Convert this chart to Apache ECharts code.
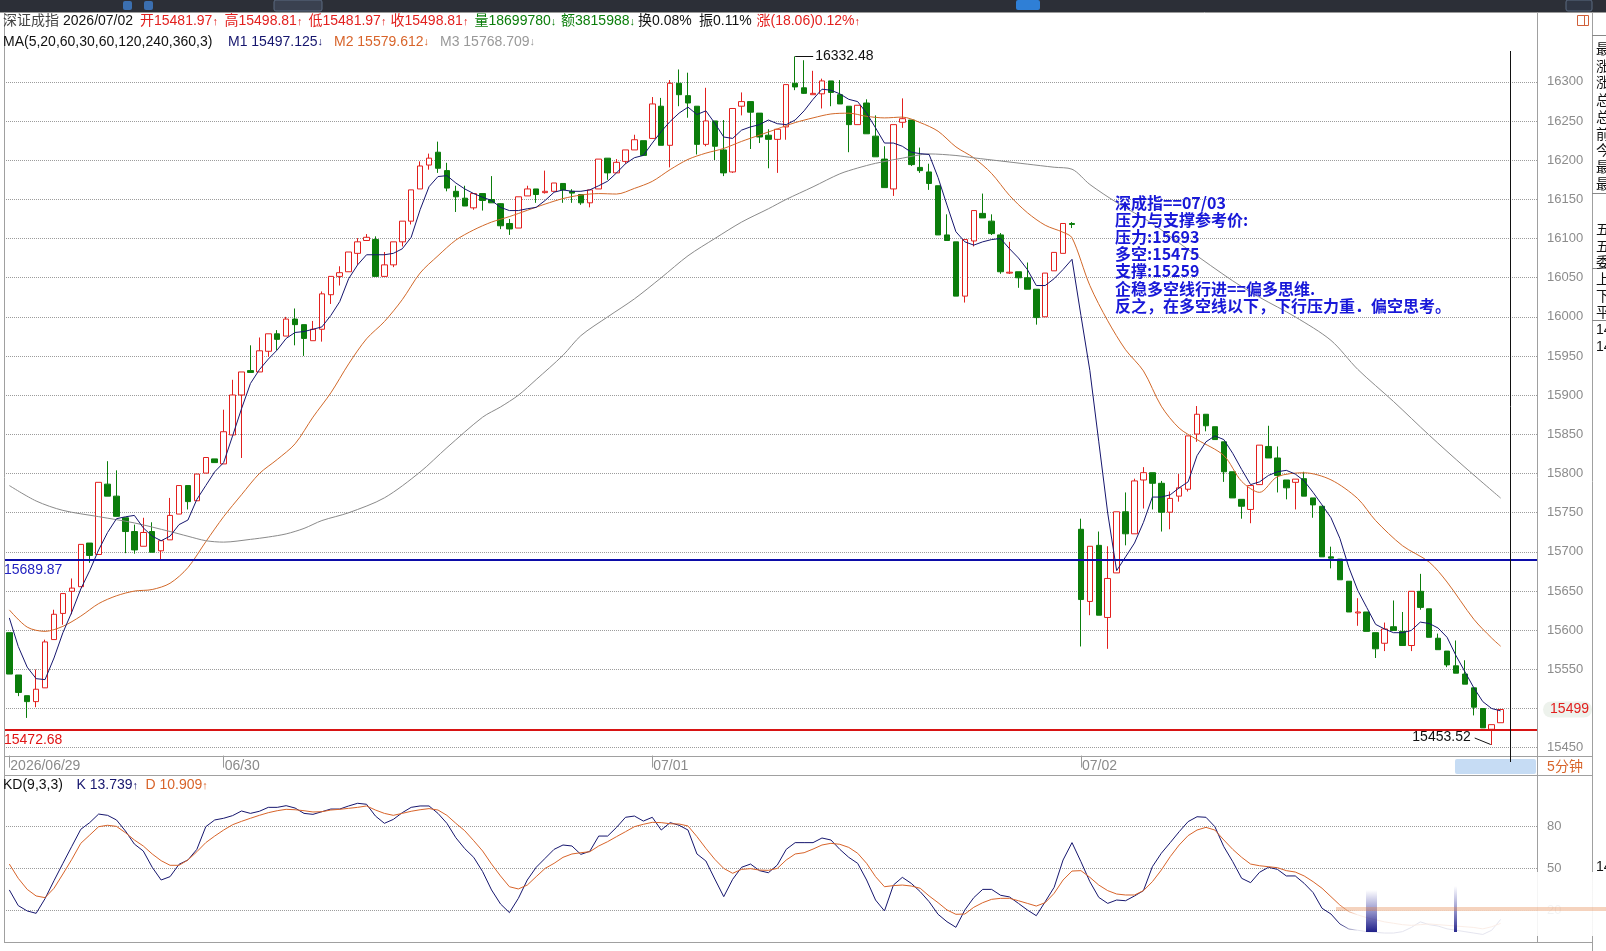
<!DOCTYPE html>
<html>
<head>
<meta charset="utf-8">
<script src="https://cdn.jsdelivr.net/npm/echarts@6/dist/echarts.min.js"></script>
<style>
  html, body { margin: 0; padding: 0; background: #fff; }
  #kline { width: 1606px; height: 951px; }
</style>
</head>
<body>
<div id="kline"></div>
<script>
// * 深证成指 5分钟K线 + KD
const dayNames = ['2026/06/29', '06/30', '07/01', '07/02']
const dayBarCount = [24, 48, 48, 48]

// 每根K线: [开, 收, 低, 高]
const candles = [
  [15596.9,15544.1,15544.1,15596.9],[15542.9,15520.6,15515.9,15542.9],[15516.5,15508.9,15488.1,15516.5],[15508.9,15524.7,15501.8,15549.9],
  [15526.5,15585.1,15526.5,15588.0],[15588.1,15620.4,15588.1,15626.2],[15621.5,15646.8,15607.0,15646.8],[15649.7,15653.8,15620.4,15666.1],
  [15655.6,15709.6,15655.6,15709.6],[15711.3,15695.5,15686.1,15711.3],[15696.7,15788.8,15696.7,15788.8],[15786.5,15771.2,15771.2,15815.8],
  [15771.2,15745.4,15745.4,15804.1],[15743.6,15726.0,15698.4,15743.6],[15726.0,15702.5,15697.7,15734.8],[15707.2,15724.8,15707.2,15743.6],
  [15726.0,15699.6,15699.6,15737.8],[15701.4,15714.3,15690.8,15714.3],[15715.4,15746.6,15715.4,15768.9],[15748.3,15784.7,15748.3,15784.7],
  [15784.7,15764.2,15754.2,15784.7],[15765.3,15799.4,15765.3,15799.4],[15800.6,15820.5,15800.6,15820.5],[15818.7,15814.0,15814.0,15818.7],
  [15812.3,15853.4,15812.3,15881.5],[15849.3,15900.3,15849.3,15919.7],[15900.3,15929.7,15819.9,15929.7],[15931.4,15929.1,15929.1,15963.7],
  [15929.7,15956.7,15929.7,15973.7],[15956.1,15978.4,15949.0,15978.4],[15978.4,15971.3,15957.8,15983.1],[15975.5,15997.2,15975.5,16000.0],
  [15997.2,15990.1,15963.7,16010.7],[15990.1,15972.5,15950.2,15990.1],[15969.6,15984.2,15969.6,15994.8],[15984.2,16029.4,15968.4,16032.4],
  [16028.3,16051.7,16016.5,16051.7],[16051.7,16056.4,16040.0,16064.6],[16057.6,16082.8,16057.6,16082.8],[16081.1,16095.8,16066.4,16100.5],
  [16097.5,16101.6,16097.5,16105.7],[16098.7,16051.7,16051.7,16102.8],[16051.7,16066.4,16051.7,16082.8],[16066.4,16095.8,16063.5,16095.8],
  [16095.8,16122.2,16089.9,16122.2],[16122.2,16162.1,16118.0,16162.1],[16163.3,16192.6,16163.3,16198.5],[16193.8,16202.6,16187.9,16208.4],
  [16210.2,16189.7,16183.8,16223.7],[16186.7,16164.4,16160.3,16196.7],[16160.3,16153.3,16133.9,16167.4],[16151.5,16141.5,16141.5,16167.4],
  [16139.2,16157.4,16136.8,16157.4],[16157.4,16148.6,16135.7,16157.4],[16149.8,16145.6,16145.6,16179.7],[16144.5,16116.3,16112.0,16145.0],
  [16119.2,16112.2,16104.6,16125.0],[16113.4,16153.3,16113.4,16153.3],[16154.4,16163.3,16154.4,16167.4],[16163.3,16156.2,16145.6,16163.3],
  [16158.6,16160.3,16157.4,16186.7],[16160.3,16170.9,16160.3,16170.9],[16170.3,16162.1,16145.6,16170.3],[16160.3,16158.0,16145.6,16163.0],
  [16156.2,16145.6,16143.0,16156.2],[16145.6,16162.1,16139.8,16162.1],[16163.3,16201.4,16163.3,16201.4],[16202.6,16183.8,16175.0,16202.6],
  [16183.8,16197.3,16183.8,16201.4],[16198.5,16213.1,16195.5,16213.1],[16213.1,16226.1,16213.1,16232.5],[16224.9,16206.1,16206.1,16224.9],
  [16227.8,16271.8,16227.8,16280.6],[16268.9,16219.0,16219.0,16279.5],[16219.0,16298.2,16190.8,16302.3],[16298.2,16283.6,16268.9,16315.8],
  [16282.4,16273.0,16254.2,16311.7],[16268.9,16220.2,16207.3,16268.9],[16220.2,16250.1,16217.8,16292.4],[16250.1,16217.8,16200.2,16250.1],
  [16213.1,16183.8,16179.7,16251.3],[16185.0,16266.0,16183.8,16266.0],[16268.9,16274.8,16257.2,16286.5],[16274.8,16261.3,16214.3,16274.8],
  [16260.1,16229.6,16221.9,16260.1],[16231.9,16226.6,16189.7,16239.5],[16226.6,16239.5,16183.8,16239.5],[16242.5,16296.5,16226.1,16296.5],
  [16298.2,16293.5,16289.4,16332.48],[16292.4,16285.3,16284.7,16327.6],[16283.6,16285.3,16283.6,16314.1],[16284.7,16301.2,16266.0,16304.1],
  [16301.2,16286.5,16268.9,16301.2],[16283.6,16271.8,16271.8,16302.3],[16268.9,16245.4,16210.2,16268.9],[16245.4,16270.1,16245.4,16270.1],
  [16273.0,16233.7,16233.7,16277.7],[16230.7,16204.3,16204.3,16257.2],[16201.4,16165.0,16165.0,16217.8],[16163.3,16245.4,16154.4,16245.4],
  [16248.4,16253.0,16241.3,16278.9],[16251.3,16194.4,16192.6,16251.3],[16190.8,16186.7,16183.8,16216.1],[16185.0,16170.3,16162.1,16195.5],
  [16167.4,16104.6,16104.6,16167.4],[16104.6,16097.5,16097.5,16130.9],[16095.8,16026.5,16026.5,16095.8],[16026.5,16098.7,16018.3,16098.7],
  [16096.9,16135.7,16089.9,16135.7],[16132.1,16126.3,16126.3,16157.4],[16122.2,16106.3,16104.5,16130.9],[16104.6,16057.6,16055.0,16107.0],
  [16055.9,16057.0,16054.7,16095.8],[16057.6,16049.9,16037.1,16057.6],[16049.9,16035.3,16035.3,16069.4],[16035.3,15999.1,15990.1,16035.3],
  [16000.1,16055.9,16000.1,16055.9],[16058.8,16082.3,16058.8,16082.3],[16081.1,16119.2,16081.1,16119.2],[16119.2,16118.0,16113.4,16121.0],
  [15728.9,15639.2,15579.3,15742.4],[15636.8,15707.2,15619.2,15707.2],[15708.4,15619.2,15619.2,15726.0],[15616.3,15666.1,15576.3,15707.2],
  [15673.2,15751.2,15673.2,15751.2],[15751.2,15723.1,15708.4,15775.9],[15723.1,15790.6,15723.1,15793.5],[15791.8,15801.1,15755.4,15808.2],
  [15801.1,15787.6,15754.2,15801.1],[15787.6,15750.7,15726.0,15790.6],[15750.7,15768.3,15728.9,15777.1],[15771.2,15781.8,15764.2,15799.4],
  [15780.0,15848.1,15777.1,15848.1],[15850.4,15875.7,15840.5,15886.2],[15875.7,15861.0,15853.9,15875.7],[15859.8,15843.4,15843.4,15859.8],
  [15840.5,15802.3,15789.4,15840.5],[15802.3,15768.9,15768.9,15802.3],[15767.1,15758.3,15742.4,15767.1],[15754.2,15784.7,15736.6,15784.7],
  [15785.9,15836.3,15785.9,15836.3],[15834.6,15819.9,15819.9,15861.0],[15819.9,15797.6,15775.9,15834.6],[15791.8,15781.8,15767.1,15791.8],
  [15788.8,15792.9,15754.2,15792.9],[15793.5,15771.2,15771.2,15802.3],[15768.9,15760.0,15743.6,15768.9],[15758.3,15693.7,15693.7,15758.3],
  [15693.7,15692.0,15679.0,15706.7],[15690.8,15664.4,15664.4,15690.8],[15662.6,15623.3,15623.3,15662.6],[15622.1,15623.3,15605.7,15640.9],
  [15623.3,15598.6,15598.6,15623.3],[15596.9,15576.3,15564.6,15596.9],[15583.4,15601.6,15573.4,15609.8],[15604.5,15599.8,15599.8,15638.0],
  [15598.6,15580.5,15580.5,15623.3],[15580.5,15649.7,15573.4,15649.7],[15649.7,15629.2,15626.2,15672.0],[15627.4,15591.0,15591.0,15627.4],
  [15589.8,15575.2,15575.2,15595.7],[15573.4,15555.8,15552.9,15573.4],[15554.6,15545.2,15545.2,15586.9],[15544.1,15531.2,15531.2,15561.7],
  [15526.5,15501.8,15491.3,15526.5],[15500.1,15475.4,15475.4,15500.1],[15473.6,15479.5,15453.52,15479.5],[15481.97,15498.81,15481.97,15498.81]
]

// MA5 (每根K线读数)
const ma5 = [
  15615.7,15579.3,15552.9,15538.2,15537.0,15564.6,15596.9,15623.3,15652.6,15676.1,
  15702.5,15724.8,15742.4,15744.8,15746.6,15730.7,15720.1,15714.3,15720.1,15734.8,
  15740.7,15767.1,15784.7,15802.3,15814.0,15848.1,15882.7,15915.0,15932.6,15946.1,
  15957.8,15972.5,15980.1,15981.3,15984.2,15987.2,16001.8,16019.5,16048.8,16066.4,
  16079.3,16079.3,16079.3,16081.1,16086.9,16101.6,16136.8,16166.2,16179.1,16180.3,
  16170.9,16163.3,16157.4,16152.7,16148.6,16139.8,16135.7,16135.7,16138.0,16139.8,
  16148.6,16159.1,16162.1,16160.3,16160.3,16162.1,16167.4,16173.2,16183.8,16195.5,
  16203.2,16206.1,16221.9,16236.6,16249.5,16260.1,16267.7,16258.3,16263.0,16247.2,
  16229.6,16227.8,16238.4,16242.5,16245.4,16251.3,16246.6,16245.4,16251.3,16263.0,
  16277.7,16290.6,16289.4,16284.7,16277.7,16274.8,16260.1,16241.3,16221.9,16221.9,
  16217.8,16210.2,16208.4,16207.3,16177.9,16142.7,16108.7,16095.8,16091.6,16095.8,
  16098.7,16100.0,16087.0,16075.2,16060.5,16040.0,16040.0,16048.8,16060.5,16073.5,
  16001.8,15931.4,15840.5,15749.5,15676.1,15693.7,15711.3,15737.7,15770.0,15770.0,
  15772.9,15781.8,15789.4,15822.8,15840.5,15848.1,15843.4,15825.8,15805.2,15785.9,
  15789.4,15797.6,15802.3,15804.1,15799.4,15790.6,15775.9,15760.0,15743.6,15717.2,
  15680.2,15650.9,15629.2,15607.5,15601.6,15596.9,15596.9,15599.8,15610.4,15608.6,
  15602.8,15591.0,15567.6,15547.0,15526.5,15508.9,15500.1,15497.1
]

// MA20 / MA60 读数: [K线序号, 值]
const ma20 = [
  [0,15626],[2,15604],[4,15598.6],[6,15605],[8,15618],[10,15634],[12,15644],[14,15650],[16,15652],[18,15660],
  [20,15680],[22,15713],[24,15745],[26,15773],[28,15800],[30,15818],[32,15838],[34,15872],[36,15903],[38,15940],
  [40,15972],[42,15994],[44,16022],[46,16056],[48,16078],[50,16098],[52,16111],[54,16121],[56,16128],[58,16136],
  [60,16144],[62,16151],[64,16155.5],[66,16157.4],[68,16156.8],[70,16164],[72,16173],[74,16188],[76,16201],[78,16209],
  [80,16215],[82,16224],[84,16232],[86,16240],[88,16248],[90,16254],[92,16259],[94,16260],[96,16256],[98,16254],
  [100,16255],[102,16248],[104,16237],[106,16217],[108,16203],[110,16183],[112,16155],[114,16133],[116,16117],[118,16108],
  [119,16101],[121,16040],[123,15995],[125,15958],[127,15931],[129,15886],[131,15858],[133,15843.4],[136,15823],[138,15790],
  [140,15776],[142,15796],[145,15801],[148,15792],[151,15768],[153,15740],[156,15708],[159,15687],[161,15661.5],[164,15614],
  [166,15590],[167,15579.6]
]
const ma60 = [
  [0,15784.7],[3,15765],[6,15753],[10,15745],[14,15737],[18,15726],[20,15720],[22,15714.3],[24,15712.5],[27,15716],
  [29,15719],[31,15723],[33,15730],[35,15740],[38,15750],[42,15769],[46,15802],[49,15833],[53,15872],[55,15885],
  [57,15900],[59,15920],[62,15951],[64,15976],[67,16000],[70,16023],[73,16050],[76,16078],[79,16100],[82,16121],
  [85,16138],[87,16150],[90,16166],[93,16182.6],[95,16190],[97,16196],[100,16202.6],[103,16208],[106,16206],[108,16203],
  [111,16199],[114,16195],[117,16191],[119,16188.5],[121,16169],[124,16146],[128,16119],[132,16086],[137,16046],[140,16025],
  [144,16000],[148,15970],[151,15933],[155,15892],[159,15849],[163,15808],[167,15768.7]
]

// KD(9,3,3)
const kValues = [
  34.8,23.6,19.8,18.1,28.6,41.4,53.8,66.0,78.1,82.9,89.0,88.1,84.8,76.9,67.6,62.6,51.0,41.9,44.3,53.1,
  56.2,63.8,80.0,84.8,86.0,87.9,91.2,89.5,91.0,93.8,93.8,95.0,93.3,89.5,88.8,90.7,92.6,92.6,94.8,96.7,
  96.0,87.6,82.4,85.2,90.0,93.8,94.8,94.8,89.5,82.4,72.1,64.3,58.1,47.9,34.8,24.8,18.6,28.8,41.9,51.0,
  57.4,63.8,66.9,66.2,60.2,62.4,73.3,73.3,79.5,86.7,87.6,84.0,86.7,77.6,82.9,81.0,77.6,60.5,55.5,42.6,
  30.0,42.4,51.0,53.3,48.6,47.1,52.6,63.8,68.6,68.6,68.6,71.9,70.5,63.8,58.1,53.8,41.9,27.6,19.8,38.3,
  43.8,39.5,33.6,26.4,17.4,12.1,8.1,20.5,29.3,35.2,35.2,31.0,29.8,25.2,20.5,16.4,26.4,36.7,56.2,68.6,
  55.0,40.7,29.5,25.2,27.6,27.1,30.5,34.3,51.4,61.0,68.6,76.4,83.6,87.1,86.7,80.0,65.7,55.0,43.1,40.0,
  47.4,51.0,49.5,44.8,44.8,39.5,32.9,21.7,17.6,10.5,6.9,6.0,5.0,4.5,4.0,4.0,5.0,8.0,12.0,10.0,
  9.0,7.0,6.0,5.0,4.0,3.0,6.0,13.739
]
const dValues = [
  53.3,43.1,35.2,30.5,29.3,36.0,46.2,56.7,68.1,74.0,80.0,81.0,80.2,75.7,70.5,66.2,60.5,55.7,52.4,52.4,
  56.2,62.1,68.6,73.3,77.6,81.4,83.8,86.0,88.1,90.0,91.4,92.4,92.1,91.4,90.5,90.7,91.9,92.4,93.1,93.8,
  94.8,91.9,89.5,88.1,89.5,91.0,92.1,92.9,91.9,88.1,82.4,77.1,70.0,62.6,53.3,44.8,37.1,35.5,38.3,44.3,
  50.2,53.8,58.1,60.5,61.4,62.1,66.2,69.3,72.9,76.4,80.0,81.7,83.1,82.9,82.1,81.9,80.5,72.9,64.5,56.7,
  50.2,46.7,49.5,50.0,49.0,48.8,50.2,56.2,60.5,61.4,64.0,66.9,68.1,67.4,65.2,61.0,53.8,44.3,37.1,37.9,
  38.3,37.6,36.0,30.5,25.7,20.5,17.4,17.6,22.4,25.7,28.1,28.8,28.8,27.1,25.2,23.3,25.7,32.4,41.9,48.3,
  48.6,43.8,38.3,34.3,31.9,31.2,31.2,34.3,40.7,49.0,58.6,66.9,73.6,77.6,79.5,77.6,70.5,63.8,58.1,53.3,
  52.1,51.4,50.7,48.6,47.6,44.8,40.7,36.0,30.0,24.0,19.3,17.0,15.0,13.5,12.0,11.0,10.0,9.5,10.0,10.5,
  10.0,9.5,9.0,8.5,8.0,7.0,8.5,10.909
]

// 参考线 / 标注
const refLevels = [15689.87, 15472.68]
const extremeHigh = [88, 16332.48]
const extremeLow = [166, 15453.52]
const noteLines = [
  '深成指==07/03',
  '压力与支撑参考价:',
  '压力:15693',
  '多空:15475',
  '支撑:15259',
  '企稳多空线行进==偏多思维.',
  '反之，在多空线以下，下行压力重．偏空思考。'
]

// 类目 (每天 5 分钟时刻)
const sessionTimes = []
for (let m = 9 * 60 + 35; m <= 11 * 60 + 30; m += 5) sessionTimes.push(m)
for (let m = 13 * 60 + 5; m <= 15 * 60; m += 5) sessionTimes.push(m)
const categories = []
const dayStarts = []
dayNames.forEach((d, di) => {
  const times = sessionTimes.slice(sessionTimes.length - dayBarCount[di])
  dayStarts.push(categories.length)
  times.forEach(t => {
    const hh = String(Math.floor(t / 60)).padStart(2, '0')
    const mm = String(t % 60).padStart(2, '0')
    categories.push(d + ' ' + hh + ':' + mm)
  })
})

const FONT = '"Liberation Sans", Arial, "Noto Sans CJK SC", sans-serif'
const RED = '#e2201e'
const GREEN = '#0b7d0b'
const NAVY = '#16166e'
const ORANGE = '#d8642a'
const GRAY = '#8c8c8c'

const kline = echarts.init(document.getElementById('kline'))

const txt = (x, y, text, color, size, extra) => ({
  type: 'text', x, y, silent: true, z: 50,
  style: Object.assign({ text, fill: color, fontSize: size || 14, fontFamily: FONT, verticalAlign: 'middle' }, extra || {})
})
const hline = (x1, x2, y, color, w) => ({
  type: 'line', silent: true, z: 40, shape: { x1, y1: y, x2, y2: y }, style: { stroke: color, lineWidth: w || 1 }
})
const vline = (x, y1, y2, color, w) => ({
  type: 'line', silent: true, z: 40, shape: { x1: x, y1, x2: x, y2 }, style: { stroke: color, lineWidth: w || 1 }
})
const arrowRich = { a: { fontSize: 11, fontFamily: '"Liberation Sans", "DejaVu Sans", sans-serif' } }

const staticGraphic = [
  // 顶部深色工具栏
  { type: 'rect', silent: true, z: 30, shape: { x: 0, y: 0, width: 1606, height: 12 }, style: { fill: '#2c2f37' } },
  { type: 'rect', silent: true, z: 31, shape: { x: 123, y: 1, width: 9, height: 9, r: 2 }, style: { fill: '#3b6fb0' } },
  { type: 'rect', silent: true, z: 31, shape: { x: 144, y: 1, width: 9, height: 9, r: 2 }, style: { fill: '#3b6fb0' } },
  { type: 'rect', silent: true, z: 31, shape: { x: 274, y: 0, width: 48, height: 11, r: 2 }, style: { fill: '#3a4150', stroke: '#5a6a80' } },
  { type: 'rect', silent: true, z: 31, shape: { x: 1016, y: 0, width: 24, height: 10, r: 2 }, style: { fill: '#2f7fd6' } },
  { type: 'rect', silent: true, z: 31, shape: { x: 1566, y: 0, width: 26, height: 11, r: 2 }, style: { fill: '#2f3644', stroke: '#5a6a80' } },
  hline(0, 1606, 12.5, '#9a9a9a'),
  // 面板边框
  vline(4.5, 12, 943, '#a0a0a0'),
  vline(1537.5, 12, 943, '#a0a0a0'),
  vline(1592.5, 12, 951, '#a0a0a0'),
  hline(4, 1592, 756.5, '#a0a0a0'),
  hline(4, 1592, 775.5, '#a0a0a0'),
  hline(4, 1592, 942.5, '#a0a0a0'),
  // 当前时刻竖线
  vline(1510.5, 51, 762, '#111', 1),
  // 右上角小图标
  { type: 'rect', silent: true, z: 45, shape: { x: 1577.5, y: 15.5, width: 11, height: 10 }, style: { fill: 'none', stroke: '#d0603a' } },
  vline(1584.5, 15.5, 25.5, '#d0603a'),
  // 周期标签
  { type: 'rect', silent: true, z: 30, shape: { x: 1455, y: 759, width: 81, height: 15, r: 2 }, style: { fill: '#c6dcf4' } },
  txt(1565, 767, '5分钟', ORANGE, 14, { align: 'center' }),
  // 标题行
  txt(3, 21.5, '深证成指', '#444', 14),
  txt(63, 21.5, '2026/07/02', '#111', 14),
  txt(140, 21.5, '开15481.97{a|↑}', RED, 14, { rich: arrowRich }),
  txt(224.5, 21.5, '高15498.81{a|↑}', RED, 14, { rich: arrowRich }),
  txt(308.5, 21.5, '低15481.97{a|↑}', RED, 14, { rich: arrowRich }),
  txt(390.5, 21.5, '收15498.81{a|↑}', RED, 14, { rich: arrowRich }),
  txt(474.5, 21.5, '量18699780{a|↓}', GREEN, 14, { rich: arrowRich }),
  txt(561, 21.5, '额3815988{a|↓}', GREEN, 14, { rich: arrowRich }),
  txt(638, 21.5, '换0.08%', '#111', 14),
  txt(699, 21.5, '振0.11%', '#111', 14),
  txt(756.5, 21.5, '涨(18.06)0.12%{a|↑}', RED, 14, { rich: arrowRich }),
  // 均线说明
  txt(3, 42, 'MA(5,20,60,30,60,120,240,360,3)', '#111', 14),
  txt(228, 42, 'M1 15497.125{a|↓}', NAVY, 14, { rich: arrowRich }),
  txt(334, 42, 'M2 15579.612{a|↓}', ORANGE, 14, { rich: arrowRich }),
  txt(440, 42, 'M3 15768.709{a|↓}', '#999', 14, { rich: arrowRich }),
  // KD 说明
  txt(3, 785.5, 'KD(9,3,3)', '#111', 14),
  txt(76.5, 785.5, 'K 13.739{a|↑}', NAVY, 14, { rich: arrowRich }),
  txt(145.5, 785.5, 'D 10.909{a|↑}', ORANGE, 14, { rich: arrowRich })
]

// 右侧信息栏 (被窗口截断)
const sideRows = [[50, '最新'], [67, '涨跌'], [83, '涨幅'], [101, '总量'], [118, '总额'], [135, '前收'], [151, '今开'], [168, '最高'], [185, '最低'],
  [230, '五日均量'], [247, '五分钟'], [263, '委比'], [280, '上涨'], [297, '下跌'], [313, '平盘'], [330, '1478'], [347, '1412']]
sideRows.forEach(r => staticGraphic.push(txt(1596, r[0], r[1], '#111', 14)))
;[35.5, 193.5, 268.5, 320.5].forEach(y => staticGraphic.push(hline(1592, 1606, y, '#888')))
staticGraphic.push(txt(1596, 867.5, '14', '#111', 14))

// 蓝色文字注释
noteLines.forEach((s, i) => {
  staticGraphic.push(txt(1115, 203 + i * 17.1, s, '#1818d8', 16,
    { fontWeight: 'bold', fontFamily: '"Noto Sans CJK SC", "DejaVu Sans", sans-serif' }))
})

// KD 右下角浮层 (半透明)
staticGraphic.push(
  { type: 'rect', silent: true, z: 90, shape: { x: 1336, y: 872, width: 270, height: 64 },
    style: { fill: new echarts.graphic.LinearGradient(0, 0, 1, 0, [
      { offset: 0, color: 'rgba(255,255,255,0)' }, { offset: 0.08, color: 'rgba(255,255,255,0.88)' },
      { offset: 1, color: 'rgba(255,255,255,0.9)' }]) } },
  { type: 'rect', silent: true, z: 91, shape: { x: 1366, y: 890, width: 11, height: 42 },
    style: { fill: new echarts.graphic.LinearGradient(0, 0, 0, 1, [
      { offset: 0, color: 'rgba(40,40,160,0)' }, { offset: 1, color: 'rgba(20,20,130,0.95)' }]) } },
  { type: 'rect', silent: true, z: 91, shape: { x: 1454, y: 886, width: 3, height: 46 },
    style: { fill: new echarts.graphic.LinearGradient(0, 0, 0, 1, [
      { offset: 0, color: 'rgba(40,40,160,0)' }, { offset: 1, color: 'rgba(20,20,130,0.9)' }]) } },
  { type: 'rect', silent: true, z: 91, shape: { x: 1336, y: 907, width: 270, height: 4 }, style: { fill: 'rgba(225,130,70,0.35)' } }
)

const option = {
  animation: false,
  backgroundColor: '#fff',
  grid: [
    { left: 4.87, top: 46.6, width: 1500.24, height: 709.0, outerBoundsMode: 'none' },
    { left: 4, top: 81.9, width: 1533, height: 665.8, outerBoundsMode: 'none' },
    { left: 4.87, top: 776, width: 1500.24, height: 166.3, outerBoundsMode: 'none' },
    { left: 4, top: 826.7, width: 1533, height: 84, outerBoundsMode: 'none' }
  ],
  xAxis: [
    {
      type: 'category', gridIndex: 0, data: categories, boundaryGap: true,
      axisLine: { show: false },
      axisTick: { show: true, alignWithLabel: true, length: 12, interval: (i) => dayStarts.includes(i), lineStyle: { color: '#9a9a9a' } },
      axisLabel: {
        interval: (i) => dayStarts.includes(i),
        formatter: (v, i) => dayNames[dayStarts.indexOf(i)] || '',
        align: 'left', margin: 4, padding: [0, 0, 0, 1], color: '#8a8a8a', fontSize: 14, fontFamily: FONT
      },
      splitLine: { show: false }
    },
    { type: 'value', gridIndex: 1, min: 0, max: 1, show: false },
    { type: 'category', gridIndex: 2, data: categories, boundaryGap: true, show: false },
    { type: 'value', gridIndex: 3, min: 0, max: 1, show: false }
  ],
  yAxis: [
    { type: 'value', gridIndex: 0, min: 15440, max: 16345, show: false },
    {
      type: 'value', gridIndex: 1, min: 15450, max: 16300, interval: 50, position: 'right',
      axisLine: { show: false },
      axisTick: { show: true, length: 8, lineStyle: { color: '#999', type: 'dotted' } },
      axisLabel: { margin: 10, color: GRAY, fontSize: 13, fontFamily: FONT, formatter: (v) => String(v) },
      splitLine: { show: true, lineStyle: { color: '#9c9c9c', type: 'dotted', width: 1 } }
    },
    { type: 'value', gridIndex: 2, min: -2.6, max: 116.2, show: false },
    {
      type: 'value', gridIndex: 3, min: 20, max: 80, interval: 30, position: 'right',
      axisLine: { show: false },
      axisTick: { show: true, length: 8, lineStyle: { color: '#999', type: 'dotted' } },
      axisLabel: { margin: 10, color: GRAY, fontSize: 13, fontFamily: FONT, formatter: (v) => String(v) },
      splitLine: { show: true, lineStyle: { color: '#9c9c9c', type: 'dotted', width: 1 } }
    }
  ],
  series: [
    {
      name: 'K线', type: 'candlestick', xAxisIndex: 0, yAxisIndex: 0, data: candles, barWidth: 6, z: 2,
      itemStyle: { color: '#fff', color0: GREEN, borderColor: RED, borderColor0: GREEN, borderWidth: 1 }
    },
    { name: 'M1', type: 'line', xAxisIndex: 0, yAxisIndex: 0, data: ma5, showSymbol: false, z: 4, lineStyle: { color: NAVY, width: 1 } },
    { name: 'M2', type: 'line', xAxisIndex: 0, yAxisIndex: 0, data: ma20, showSymbol: false, smooth: 0.3, z: 3, lineStyle: { color: '#d2692a', width: 1 } },
    { name: 'M3', type: 'line', xAxisIndex: 0, yAxisIndex: 0, data: ma60, showSymbol: false, smooth: 0.3, z: 3, lineStyle: { color: '#8a8a8a', width: 1 } },
    {
      name: '参考线', type: 'line', xAxisIndex: 1, yAxisIndex: 1, data: [], z: 5,
      markLine: {
        silent: true, symbol: ['none', 'none'], animation: false,
        data: [
          { yAxis: refLevels[0], lineStyle: { color: '#0c0ca8', width: 2, type: 'solid' },
            label: { show: true, position: 'insideStartBottom', formatter: String(refLevels[0]), color: '#2222c0', fontSize: 14, fontFamily: FONT, distance: [0, 3] } },
          { yAxis: refLevels[1], lineStyle: { color: '#d81414', width: 2, type: 'solid' },
            label: { show: true, position: 'insideStartBottom', formatter: String(refLevels[1]), color: '#e01414', fontSize: 14, fontFamily: FONT, distance: [0, 3] } }
        ]
      }
    },
    { name: 'K', type: 'line', xAxisIndex: 2, yAxisIndex: 2, data: kValues, showSymbol: false, z: 3, lineStyle: { color: NAVY, width: 1 } },
    { name: 'D', type: 'line', xAxisIndex: 2, yAxisIndex: 2, data: dValues, showSymbol: false, z: 3, lineStyle: { color: ORANGE, width: 1 } }
  ],
  graphic: staticGraphic
}

kline.setOption(option)

// ? 价格锚定的标注 (由坐标轴换算位置)
const hiPt = kline.convertToPixel({ xAxisIndex: 0, yAxisIndex: 0 }, extremeHigh)
const loPt = kline.convertToPixel({ xAxisIndex: 0, yAxisIndex: 0 }, extremeLow)
const lastClose = candles[candles.length - 1][1]
const lastPt = kline.convertToPixel({ xAxisIndex: 0, yAxisIndex: 0 }, [candles.length - 1, lastClose])

const dynGraphic = [
  hline(hiPt[0], hiPt[0] + 18, Math.round(hiPt[1]) + 0.5, '#111'),
  txt(hiPt[0] + 20, hiPt[1], String(extremeHigh[1]), '#111', 14),
  { type: 'line', silent: true, z: 40, shape: { x1: loPt[0] - 17, y1: loPt[1] - 7, x2: loPt[0] - 1, y2: loPt[1] - 0.5 }, style: { stroke: '#111', lineWidth: 1 } },
  txt(loPt[0] - 21, loPt[1] - 8, String(extremeLow[1]), '#111', 14, { align: 'right' }),
  { type: 'rect', silent: true, z: 45, shape: { x: 1543, y: lastPt[1] - 8, width: 49, height: 16, r: 8 }, style: { fill: '#edf2ec' } },
  txt(1589, lastPt[1], String(Math.round(lastClose)), RED, 14, { align: 'right' })
]

kline.setOption({ graphic: staticGraphic.concat(dynGraphic) })
</script>
</body>
</html>
